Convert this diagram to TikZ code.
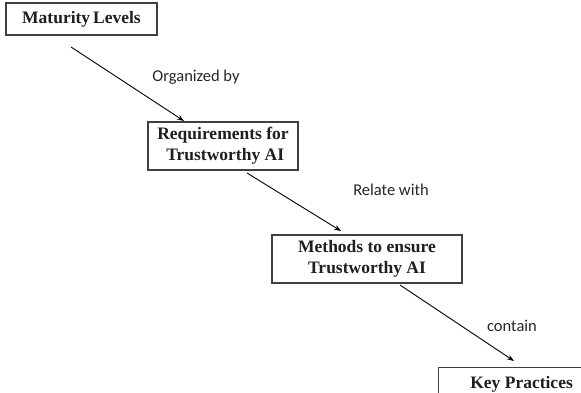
\documentclass[tikz,border=0pt]{standalone}
\usepackage{fontspec}
\setmainfont{Liberation Serif}
\newfontfamily\labelfont{Carlito}
\usetikzlibrary{arrows.meta}
\begin{document}
\begin{tikzpicture}[x=1pt,y=-1pt,
  levelbox/.style={draw=black!75, line width=1.1pt, inner sep=0pt, align=center,
    font=\fontsize{17.5}{21}\selectfont\bfseries, text=black!88},
  flow/.style={line width=0.9pt, -{Stealth[length=7pt,width=5pt]}},
  relabel/.style={font=\labelfont\fontsize{16.5}{18}\selectfont, text=black!85}]
\useasboundingbox (0,0) rectangle (581,393);
\clip (0,0) rectangle (581,393);
\fill[white] (0,0) rectangle (581,393);

\node[levelbox, minimum width=151pt, minimum height=32pt] (ml) at (81.5,19) {Maturity\,Levels};
\node[levelbox, minimum width=150pt, minimum height=48pt] (req) at (223,146) {Requirements for\\ \ Trustworthy AI};
\node[levelbox, minimum width=190pt, minimum height=48pt] (meth) at (367,259) {Methods to ensure\\Trustworthy AI};
\node[levelbox, minimum width=166pt, minimum height=34pt, anchor=north west] (kp) at (438,367) {Key Practices};

\coordinate (s1) at (71,47);
\coordinate (e1) at (184,121);
\coordinate (s2) at (247,173);
\coordinate (e2) at (341,231);
\coordinate (s3) at (400,285);
\coordinate (e3) at (514,361);

\draw[flow] (s1) -- (e1);
\draw[flow] (s2) -- (e2);
\draw[flow] (s3) -- (e3);

\node[relabel] (l1) at (196,77) {Organized by};
\node[relabel] (l2) at (391,190) {Relate with};
\node[relabel] (l3) at (512,326) {contain};
\end{tikzpicture}
\end{document}
